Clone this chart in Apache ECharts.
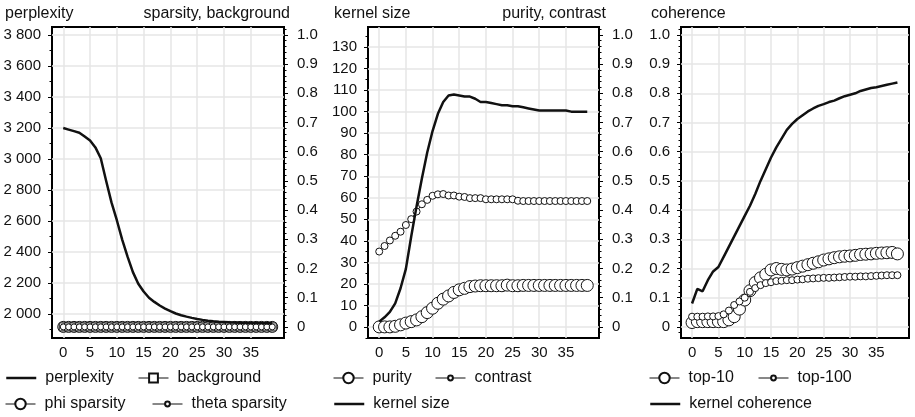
<!DOCTYPE html>
<html>
<head>
<meta charset="utf-8">
<script src="https://cdn.jsdelivr.net/npm/echarts@6/dist/echarts.min.js"></script>
<style>
  html, body { margin: 0; padding: 0; background: #fff; }
  #chart { width: 915px; height: 417px; }
</style>
</head>
<body>
<div id="chart"></div>
<script>
// iterations on the x axis
const iterations = [0, 1, 2, 3, 4, 5, 6, 7, 8, 9, 10, 11, 12, 13, 14, 15, 16, 17, 18, 19,
  20, 21, 22, 23, 24, 25, 26, 27, 28, 29, 30, 31, 32, 33, 34, 35, 36, 37, 38, 39];

// panel 1
const perplexity = [3200, 3190, 3180, 3170, 3145, 3120, 3075, 3005, 2860, 2720, 2605, 2480, 2370, 2270, 2195, 2145, 2105, 2078, 2055, 2035,
  2018, 2003, 1992, 1983, 1975, 1968, 1962, 1957, 1953, 1950, 1948, 1946, 1945, 1944, 1943, 1942, 1942, 1941, 1940, 1940];
const background = [0, 0, 0, 0, 0, 0, 0, 0, 0, 0, 0, 0, 0, 0, 0, 0, 0, 0, 0, 0,
  0, 0, 0, 0, 0, 0, 0, 0, 0, 0, 0, 0, 0, 0, 0, 0, 0, 0, 0, 0];
const phiSparsity = [0, 0, 0, 0, 0, 0, 0, 0, 0, 0, 0, 0, 0, 0, 0, 0, 0, 0, 0, 0,
  0, 0, 0, 0, 0, 0, 0, 0, 0, 0, 0, 0, 0, 0, 0, 0, 0, 0, 0, 0];
const thetaSparsity = [0, 0, 0, 0, 0, 0, 0, 0, 0, 0, 0, 0, 0, 0, 0, 0, 0, 0, 0, 0,
  0, 0, 0, 0, 0, 0, 0, 0, 0, 0, 0, 0, 0, 0, 0, 0, 0, 0, 0, 0];

// panel 2
const purity = [0, 0, 0, 0.002, 0.007, 0.013, 0.018, 0.024, 0.035, 0.049, 0.064, 0.081, 0.095, 0.106, 0.118, 0.127, 0.132, 0.138, 0.14, 0.141,
  0.141, 0.141, 0.141, 0.141, 0.143, 0.141, 0.141, 0.142, 0.142, 0.142, 0.142, 0.142, 0.142, 0.142, 0.142, 0.142, 0.142, 0.142, 0.142, 0.142];
const contrast = [0.258, 0.277, 0.296, 0.312, 0.326, 0.349, 0.369, 0.395, 0.42, 0.435, 0.449, 0.454, 0.455, 0.45, 0.45, 0.446, 0.445, 0.441, 0.441, 0.441,
  0.437, 0.437, 0.437, 0.437, 0.437, 0.437, 0.432, 0.431, 0.431, 0.431, 0.431, 0.431, 0.431, 0.431, 0.431, 0.431, 0.431, 0.431, 0.431, 0.431];
const kernelSize = [2.5, 4.5, 7, 11, 18, 27, 42, 56, 69, 81, 91, 99, 104.5, 107.5, 108, 107.5, 107, 107, 106, 104.5,
  104.5, 104, 103.5, 103, 103, 102.5, 102.5, 102, 101.5, 101, 100.5, 100.5, 100.5, 100.5, 100.5, 100.5, 100, 100, 100, 100];

// panel 3
const top10 = [0.015, 0.018, 0.018, 0.018, 0.018, 0.018, 0.018, 0.024, 0.035, 0.061, 0.092, 0.124, 0.152, 0.168, 0.18, 0.195, 0.2, 0.197, 0.195, 0.198,
  0.203, 0.208, 0.213, 0.218, 0.223, 0.229, 0.233, 0.237, 0.24, 0.242, 0.243, 0.245, 0.248, 0.249, 0.25, 0.252, 0.253, 0.254, 0.255, 0.25];
const top100 = [0.035, 0.035, 0.035, 0.036, 0.036, 0.037, 0.043, 0.056, 0.075, 0.087, 0.1, 0.12, 0.133, 0.143, 0.15, 0.153, 0.157, 0.158, 0.16, 0.16,
  0.162, 0.163, 0.165, 0.166, 0.167, 0.168, 0.168, 0.169, 0.17, 0.171, 0.172, 0.172, 0.173, 0.173, 0.174, 0.175, 0.176, 0.177, 0.177, 0.177];
const kernelCoherence = [0.08, 0.13, 0.122, 0.16, 0.19, 0.205, 0.24, 0.275, 0.31, 0.345, 0.38, 0.415, 0.455, 0.5, 0.54, 0.58, 0.615, 0.645, 0.675, 0.695,
  0.712, 0.725, 0.738, 0.748, 0.757, 0.763, 0.77, 0.775, 0.783, 0.79, 0.795, 0.8, 0.808, 0.813, 0.818, 0.821, 0.825, 0.829, 0.833, 0.837];

// tick labels
const xTicks = [0, 5, 10, 15, 20, 25, 30, 35];
const perplexityTicks = [2000, 2200, 2400, 2600, 2800, 3000, 3200, 3400, 3600, 3800];
const kernelSizeTicks = [0, 10, 20, 30, 40, 50, 60, 70, 80, 90, 100, 110, 120, 130];
const unitTicks = [0, 0.1, 0.2, 0.3, 0.4, 0.5, 0.6, 0.7, 0.8, 0.9, 1.0];

const FONT = '"Liberation Sans", Arial, Helvetica, sans-serif';
const INK = '#111';
const GRIDLINE = '#e6e6e6';
const TICK_FS = 15;
const TEXT_FS = 16;

const TOP = 27, HEIGHT = 311;
const panels = [
  { left: 52, width: 232 },
  { left: 368, width: 231 },
  { left: 681, width: 228 },
];

function pairs(values) {
  return iterations.map((x, i) => [x, values[i]]);
}

function thousands(v) {
  return String(v).replace(/\B(?=(\d{3})+(?!\d))/g, ' ');
}

function unitLabel(v) {
  return v === 0 ? '0' : v.toFixed(1);
}

const grid = panels.map(p => ({
  left: p.left, top: TOP, width: p.width, height: HEIGHT,
  show: true, borderColor: '#000', borderWidth: 2, backgroundColor: 'transparent',
  containLabel: false,
}));

const xAxis = panels.map((p, i) => ({
  type: 'value', gridIndex: i, min: -2.1, max: 41.2, splitNumber: 8,
  axisLine: { show: false, onZero: false },
  axisTick: { show: false, customValues: xTicks },
  axisLabel: { customValues: xTicks, color: INK, fontSize: TICK_FS, fontFamily: FONT, margin: 7 },
  splitLine: { show: true, lineStyle: { color: GRIDLINE, width: 1.5 } },
}));

// y axes: value range padded like the original plot box, ticks only at round values
function yAxisDef(gridIndex, side, min, max, splitNumber, ticks, formatter, minorSplit, showSplit) {
  return {
    type: 'value', gridIndex, position: side, min, max, splitNumber,
    axisLine: { show: false, onZero: false },
    axisTick: { show: true, length: 4, inside: false, customValues: ticks, lineStyle: { color: '#000', width: 1 } },
    minorTick: { show: true, splitNumber: minorSplit, length: 2.5, lineStyle: { color: '#000', width: 1 } },
    axisLabel: { customValues: ticks, formatter, color: INK, fontSize: TICK_FS, fontFamily: FONT, margin: side === 'left' ? 11 : 13 },
    splitLine: { show: showSplit, lineStyle: { color: GRIDLINE, width: 1.5 } },
  };
}

const yAxis = [
  yAxisDef(0, 'left', 1845, 3852, 10, perplexityTicks, thousands, 2, true),
  yAxisDef(0, 'right', -0.038, 1.027, 10, unitTicks, unitLabel, 5, false),
  yAxisDef(1, 'left', -5.1, 139.3, 14, kernelSizeTicks, v => String(v), 2, true),
  yAxisDef(1, 'right', -0.038, 1.027, 10, unitTicks, unitLabel, 5, false),
  yAxisDef(2, 'left', -0.038, 1.027, 10, unitTicks, unitLabel, 5, true),
];

function lineOnly(name, values, gi, yi) {
  return {
    name, type: 'line', xAxisIndex: gi, yAxisIndex: yi, data: pairs(values),
    symbol: 'none', lineStyle: { color: '#111', width: 2.5 }, itemStyle: { color: '#111' }, z: 4,
  };
}

function marked(name, values, gi, yi, symbol, size, z) {
  return {
    name, type: 'line', xAxisIndex: gi, yAxisIndex: yi, data: pairs(values),
    symbol, symbolSize: size, showAllSymbol: true,
    lineStyle: { color: '#111', width: 1 },
    itemStyle: { color: '#fff', borderColor: '#111', borderWidth: 1 },
    z,
  };
}

const series = [
  lineOnly('perplexity', perplexity, 0, 0),
  marked('background', background, 0, 1, 'rect', 8, 3),
  marked('phi sparsity', phiSparsity, 0, 1, 'circle', 11, 2),
  marked('theta sparsity', thetaSparsity, 0, 1, 'circle', 6, 3),

  marked('purity', purity, 1, 3, 'circle', 12, 2),
  marked('contrast', contrast, 1, 3, 'circle', 7, 2),
  lineOnly('kernel size', kernelSize, 1, 2),

  marked('top-10', top10, 2, 4, 'circle', 12, 2),
  marked('top-100', top100, 2, 4, 'circle', 7, 3),
  lineOnly('kernel coherence', kernelCoherence, 2, 4),
];

// one legend per entry so every icon sits where the original has it
const ROW1 = 378, ROW2 = 404;
const legendItems = [
  { name: 'perplexity', left: 5, cy: ROW1, h: 2, lw: 2.5 },
  { name: 'background', left: 138, cy: ROW1, h: 11, lw: 1 },
  { name: 'phi sparsity', left: 5, cy: ROW2, h: 13, lw: 1 },
  { name: 'theta sparsity', left: 152, cy: ROW2, h: 6, lw: 1 },
  { name: 'purity', left: 333, cy: ROW1, h: 13, lw: 1 },
  { name: 'contrast', left: 435, cy: ROW1, h: 6, lw: 1 },
  { name: 'kernel size', left: 333, cy: ROW2, h: 2, lw: 2.5 },
  { name: 'top-10', left: 649, cy: ROW1, h: 13, lw: 1 },
  { name: 'top-100', left: 758, cy: ROW1, h: 6, lw: 1 },
  { name: 'kernel coherence', left: 649, cy: ROW2, h: 2, lw: 2.5 },
];

// the legend box is as tall as its text, so centre on the text height
const legend = legendItems.map(it => ({
  data: [it.name], left: it.left, top: it.cy - Math.max(it.h, TEXT_FS) / 2, orient: 'horizontal',
  padding: 0, itemWidth: 30, itemHeight: it.h, selectedMode: false,
  lineStyle: { width: it.lw, color: '#111' },
  textStyle: { color: INK, fontSize: TEXT_FS, fontFamily: FONT, padding: [0, 0, 0, 4] },
}));

const title = [
  { text: 'perplexity', left: 5, top: 6 },
  { text: 'sparsity, background', right: 625, top: 6 },
  { text: 'kernel size', left: 334, top: 6 },
  { text: 'purity, contrast', right: 309, top: 6 },
  { text: 'coherence', left: 651, top: 6 },
].map(t => Object.assign({ padding: 0, textStyle: { color: INK, fontSize: TEXT_FS, fontWeight: 'normal', fontFamily: FONT } }, t));

const chart = echarts.init(document.getElementById('chart'), null, { renderer: 'canvas' });
chart.setOption({
  animation: false,
  backgroundColor: '#fff',
  title, legend, grid, xAxis, yAxis, series,
});
</script>
</body>
</html>
